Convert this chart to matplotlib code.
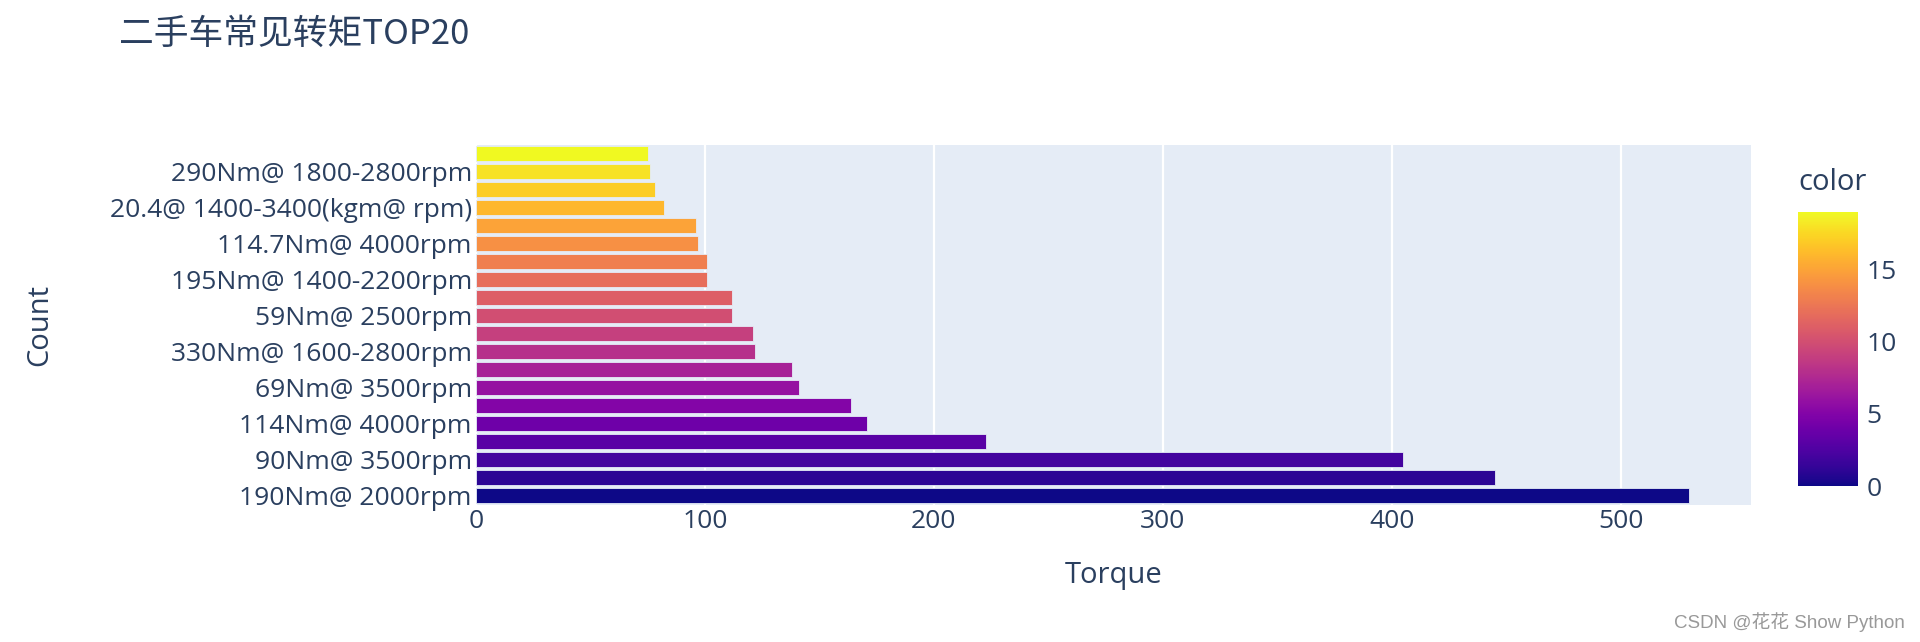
import matplotlib.pyplot as plt
import numpy as np
from matplotlib import cm
from matplotlib.colors import Normalize

# bars listed bottom to top; only every other category is labeled on the axis
tick_labels = ['190Nm@ 2000rpm', '90Nm@ 3500rpm', '114Nm@ 4000rpm', '69Nm@ 3500rpm',
               '330Nm@ 1600-2800rpm', '59Nm@ 2500rpm', '195Nm@ 1400-2200rpm',
               '114.7Nm@ 4000rpm', '20.4@ 1400-3400(kgm@ rpm)', '290Nm@ 1800-2800rpm']
counts = [530, 445, 405, 223, 171, 164, 141, 138, 122, 121,
          112, 112, 101, 101, 97, 96, 82, 78, 76, 75]
color_vals = list(range(20))
cbar_ticks = [0, 5, 10, 15]

TXT = '#2a3f5f'
BG = '#E5ECF6'
W, H = 1920, 642

fig = plt.figure(figsize=(W / 100, H / 100), dpi=100)
ax_l, ax_r = 476, 1751
ax = fig.add_axes([ax_l / W, 1 - 504.5 / H, (ax_r - ax_l) / W, (504.5 - 144.5) / H])
ax.set_facecolor(BG)

norm = Normalize(vmin=0, vmax=19)
cmap = plt.get_cmap('plasma')
y = np.arange(len(counts))
ax.barh(y, counts, height=0.8, color=cmap(norm(np.array(color_vals))),
        edgecolor=BG, linewidth=0.6, zorder=3)

ax.set_ylim(-0.5, len(counts) - 0.5)
ax.set_xlim(0, 557)
ax.set_xticks([0, 100, 200, 300, 400, 500])
ax.set_yticks(y[::2])
ax.set_yticklabels(tick_labels)
ax.grid(axis='x', color='white', linewidth=1.6, zorder=0)
ax.set_axisbelow(True)
for s in ax.spines.values():
    s.set_visible(False)
ax.tick_params(length=0, labelsize=19, labelcolor=TXT, pad=3)
for lab in ax.get_xticklabels() + ax.get_yticklabels():
    lab.set_fontfamily('Open Sans')

ax.set_xlabel('Torque', fontsize=21, color=TXT, family='Open Sans')
ax.xaxis.set_label_coords((1114 - ax_l) / (ax_r - ax_l), -(576 - 504.5) / 360)
ax.xaxis.label.set_va('center')
ax.set_ylabel('Count', fontsize=21, color=TXT, family='Open Sans')
ax.yaxis.set_label_coords((40 - ax_l) / (ax_r - ax_l), 0.5)
ax.yaxis.label.set_va('center')

fig.text(119 / W, 1 - 34 / H, '二手车常见转矩TOP20', fontsize=25, color=TXT,
         family=['Noto Sans CJK SC', 'DejaVu Sans'], va='center', ha='left')

# colorbar
cax = fig.add_axes([1798 / W, 1 - 486 / H, 60 / W, (486 - 212) / H])
cb = fig.colorbar(cm.ScalarMappable(norm=norm, cmap=cmap), cax=cax, ticks=cbar_ticks)
cb.outline.set_visible(False)
cax.tick_params(length=0, labelsize=19, labelcolor=TXT, pad=6)
for lab in cax.get_yticklabels():
    lab.set_fontfamily('Open Sans')
fig.text(1798 / W, 1 - 183 / H, 'color', fontsize=21, color=TXT, family='Open Sans',
         va='center', ha='left')

fig.text(1905 / W, 1 - 622 / H, 'CSDN @花花 Show Python', fontsize=13.5, color='#999999',
         family=['Liberation Sans', 'Noto Sans CJK SC'], va='center', ha='right')

fig.savefig('out.png', dpi=100, facecolor='white')
